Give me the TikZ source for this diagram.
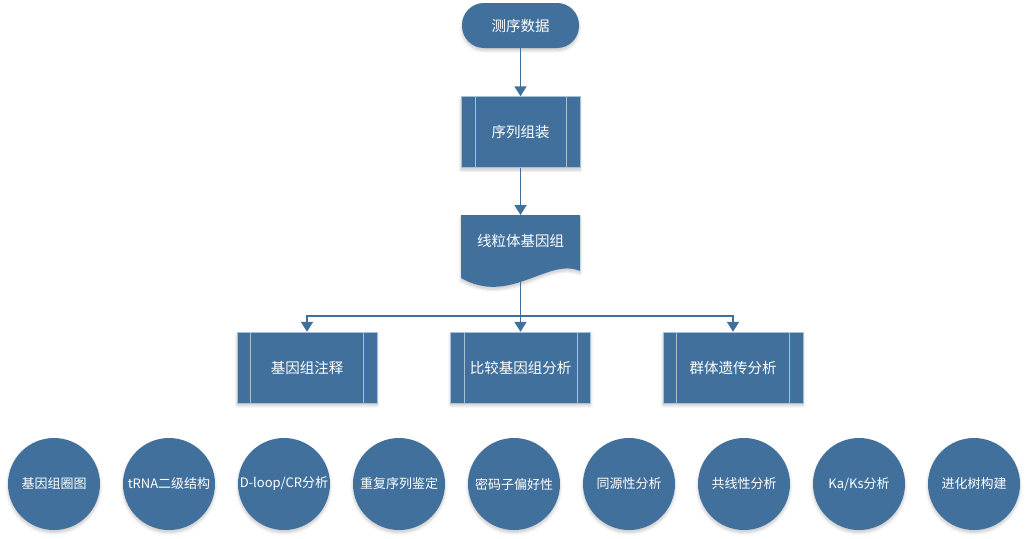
\documentclass[tikz,border=0pt]{standalone}
\usepackage{fontspec}
\setmainfont{Noto Sans CJK SC}
\usetikzlibrary{arrows.meta,shadows.blur}
\definecolor{mblue}{RGB}{65,112,157}
\tikzset{
  shad/.style={blur shadow={shadow xshift=0pt, shadow yshift=-2.5pt, shadow blur steps=6, shadow opacity=22, shadow blur radius=3pt}},
  lbl/.style={text=white, font=\fontsize{14.5}{17}\selectfont},
  term/.style={lbl, fill=mblue, rounded corners=22pt, minimum width=117pt, minimum height=45pt, shad},
  proc/.style={lbl, fill=mblue, minimum width=#1, minimum height=71pt, shad, draw=white!55!mblue, line width=0.4pt},
  inner/.style={draw=white!55!mblue, line width=0.6pt},
  circ/.style={circle, fill=mblue, minimum size=92pt, inner sep=0pt, text=white, font=\fontsize{13}{15}\selectfont, shad},
  conn/.style={draw=mblue, line width=1.8pt},
  arr/.style={conn, -{Triangle[width=12pt,length=10pt]}},
}
\begin{document}
\begin{tikzpicture}[x=1pt,y=-1pt]
\useasboundingbox (0,0) rectangle (1030,538);
% top flow
\node[term] (seq) at (520.5,25.5) {测序数据};
\node[proc=119pt] (asm) at (520.5,132) {序列组装};
\draw[inner] ([xshift=14pt]asm.north west) -- ([xshift=14pt]asm.south west);
\draw[inner] ([xshift=-14pt]asm.north east) -- ([xshift=-14pt]asm.south east);
% document shape
\path[fill=mblue, shad] (461,215) -- (580,215) -- (580,271) .. controls (548,257) and (510,306) .. (461,278) -- cycle;
\node[lbl] (doc) at (520.5,241) {线粒体基因组};
\coordinate (doct) at (520.5,215);
\coordinate (docb) at (520.5,280);
\coordinate (split) at (520.5,316);
% second level
\node[proc=140pt] (b1) at (307,367.5) {基因组注释};
\node[proc=140pt] (b2) at (520.5,367.5) {比较基因组分析};
\node[proc=140pt] (b3) at (733,367.5) {群体遗传分析};
\foreach \b in {b1,b2,b3}{
  \draw[inner] ([xshift=13.5pt]\b.north west) -- ([xshift=13.5pt]\b.south west);
  \draw[inner] ([xshift=-13.5pt]\b.north east) -- ([xshift=-13.5pt]\b.south east);
}
% connectors
\draw[arr] (seq.south) -- (asm.north);
\draw[arr] (asm.south) -- (doct);
\draw[conn] (docb) -- (split);
\draw[arr] (split) -- (b2.north);
\draw[arr] (split) -| (b1.north);
\draw[arr] (split) -| (b3.north);
% circles
\node[circ] (c1) at (54,484) {基因组圈图};
\node[circ] (c2) at (169,484) {tRNA二级结构};
\node[circ] (c3) at (284,484) {D-loop/CR分析};
\node[circ] (c4) at (399,484) {重复序列鉴定};
\node[circ] (c5) at (514,484) {密码子偏好性};
\node[circ] (c6) at (629,484) {同源性分析};
\node[circ] (c7) at (744,484) {共线性分析};
\node[circ] (c8) at (859,484) {Ka/Ks分析};
\node[circ] (c9) at (974,484) {进化树构建};
\end{tikzpicture}
\end{document}
